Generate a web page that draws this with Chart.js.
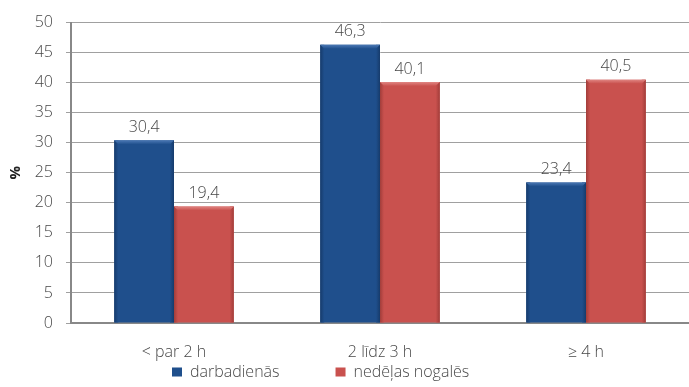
<!DOCTYPE html>
<html>
<head>
<meta charset="utf-8">
<script src="https://cdn.jsdelivr.net/npm/chart.js@4/dist/chart.umd.min.js"></script>
<style>
  html, body { margin: 0; padding: 0; background: #fff; }
  #wrap { width: 689px; height: 387px; position: relative; }
</style>
</head>
<body>
<div id="wrap"><canvas id="c"></canvas></div>
<script>
const categories = ['< par 2 h', '2 līdz 3 h', '≥ 4 h'];
const seriesNames = ['darbadienās', 'nedēļas nogalēs'];
const weekdays = [30.4, 46.3, 23.4];
const weekends = [19.4, 40.1, 40.5];
const yTicks = [0, 5, 10, 15, 20, 25, 30, 35, 40, 45, 50];

const FONT = '"Open Sans", "DejaVu Sans", sans-serif';
const TEXT = '#484848';
const SIZE = 16;

const palette = [
  { base: '#1f4f8c', edge: '#163b6b', light: '#4b78b4' },
  { base: '#c9514e', edge: '#a13d3a', light: '#e08582' }
];

// Bevel effect on each bar: darker side edges and a lighter top strip
const bevel = {
  id: 'bevel',
  afterDatasetsDraw(chart) {
    const ctx = chart.ctx;
    chart.data.datasets.forEach((ds, i) => {
      const meta = chart.getDatasetMeta(i);
      const p = palette[i];
      meta.data.forEach(bar => {
        const left = bar.x - bar.width / 2;
        const right = bar.x + bar.width / 2;
        const top = bar.y, bottom = bar.base;
        const e = 4;
        ctx.save();
        let g = ctx.createLinearGradient(left, 0, left + e, 0);
        g.addColorStop(0, p.edge); g.addColorStop(1, p.base);
        ctx.fillStyle = g;
        ctx.fillRect(left, top, e, bottom - top);
        g = ctx.createLinearGradient(right - e, 0, right, 0);
        g.addColorStop(0, p.base); g.addColorStop(1, p.edge);
        ctx.fillStyle = g;
        ctx.fillRect(right - e, top, e, bottom - top);
        g = ctx.createLinearGradient(0, top, 0, top + e);
        g.addColorStop(0, p.light); g.addColorStop(1, p.base);
        ctx.fillStyle = g;
        ctx.beginPath();
        ctx.moveTo(left, top);
        ctx.lineTo(right, top);
        ctx.lineTo(right - e, top + e);
        ctx.lineTo(left + e, top + e);
        ctx.closePath();
        ctx.fill();
        ctx.restore();
      });
    });
  }
};

// Value labels above the bars, with decimal comma
const valueLabels = {
  id: 'valueLabels',
  afterDatasetsDraw(chart) {
    const ctx = chart.ctx;
    ctx.save();
    ctx.font = '300 ' + SIZE + 'px ' + FONT;
    ctx.fillStyle = TEXT;
    ctx.textAlign = 'center';
    ctx.textBaseline = 'bottom';
    chart.data.datasets.forEach((ds, i) => {
      chart.getDatasetMeta(i).data.forEach((bar, j) => {
        const txt = ds.data[j].toFixed(1).replace('.', ',');
        ctx.fillText(txt, bar.x, bar.y - 5);
      });
    });
    ctx.restore();
  }
};

// Place the legend row under the axis labels, first box at a fixed x
const legendPlace = {
  id: 'legendPlace',
  afterLayout(chart) {
    const lg = chart.legend;
    const pad = lg.options.labels.padding;
    const rowY = 364;
    lg.top = rowY - pad;
    lg.bottom = chart.height;
    const startX = (lg.left + pad + lg.right - lg.lineWidths[0]) / 2;
    const dx = 172 - startX;
    lg.left += dx; lg.right += dx;
  }
};

new Chart(document.getElementById('c'), {
  type: 'bar',
  data: {
    labels: categories,
    datasets: [
      { label: seriesNames[0], data: weekdays, backgroundColor: palette[0].base, borderWidth: 0 },
      { label: seriesNames[1], data: weekends, backgroundColor: palette[1].base, borderWidth: 0 }
    ]
  },
  options: {
    responsive: true,
    maintainAspectRatio: false,
    animation: false,
    devicePixelRatio: 1,
    layout: { padding: { left: 0, right: -6, top: 22, bottom: 0 } },
    datasets: { bar: { categoryPercentage: 0.58, barPercentage: 1.0 } },
    plugins: {
      tooltip: { enabled: false },
      legend: {
        position: 'bottom',
        maxHeight: 20,
        labels: {
          boxWidth: 10,
          boxHeight: 9,
          padding: 56,
          color: TEXT,
          font: { family: FONT, size: SIZE, weight: 300 }
        }
      }
    },
    scales: {
      x: {
        grid: { display: false, drawTicks: false },
        border: { display: true, color: '#888', width: 2 },
        ticks: { color: TEXT, padding: 20, font: { family: FONT, size: SIZE, weight: 300 } },
        afterFit(s) { s.height = 44; }
      },
      y: {
        min: 0, max: 50,
        afterBuildTicks(s) { s.ticks = yTicks.map(v => ({ value: v })); },
        grid: { color: '#a0a0a0', lineWidth: 1, tickLength: 5, drawTicks: true },
        border: { display: true, color: '#888', width: 2 },
        ticks: { color: TEXT, padding: 13, font: { family: FONT, size: SIZE, weight: 300 } },
        title: { display: true, text: '%', color: '#222', font: { family: FONT, size: 15, weight: 'bold' }, padding: { top: 7, bottom: 0 } },
        afterFit(s) { s.width = 71; }
      }
    }
  },
  plugins: [bevel, valueLabels, legendPlace]
});
</script>
</body>
</html>
